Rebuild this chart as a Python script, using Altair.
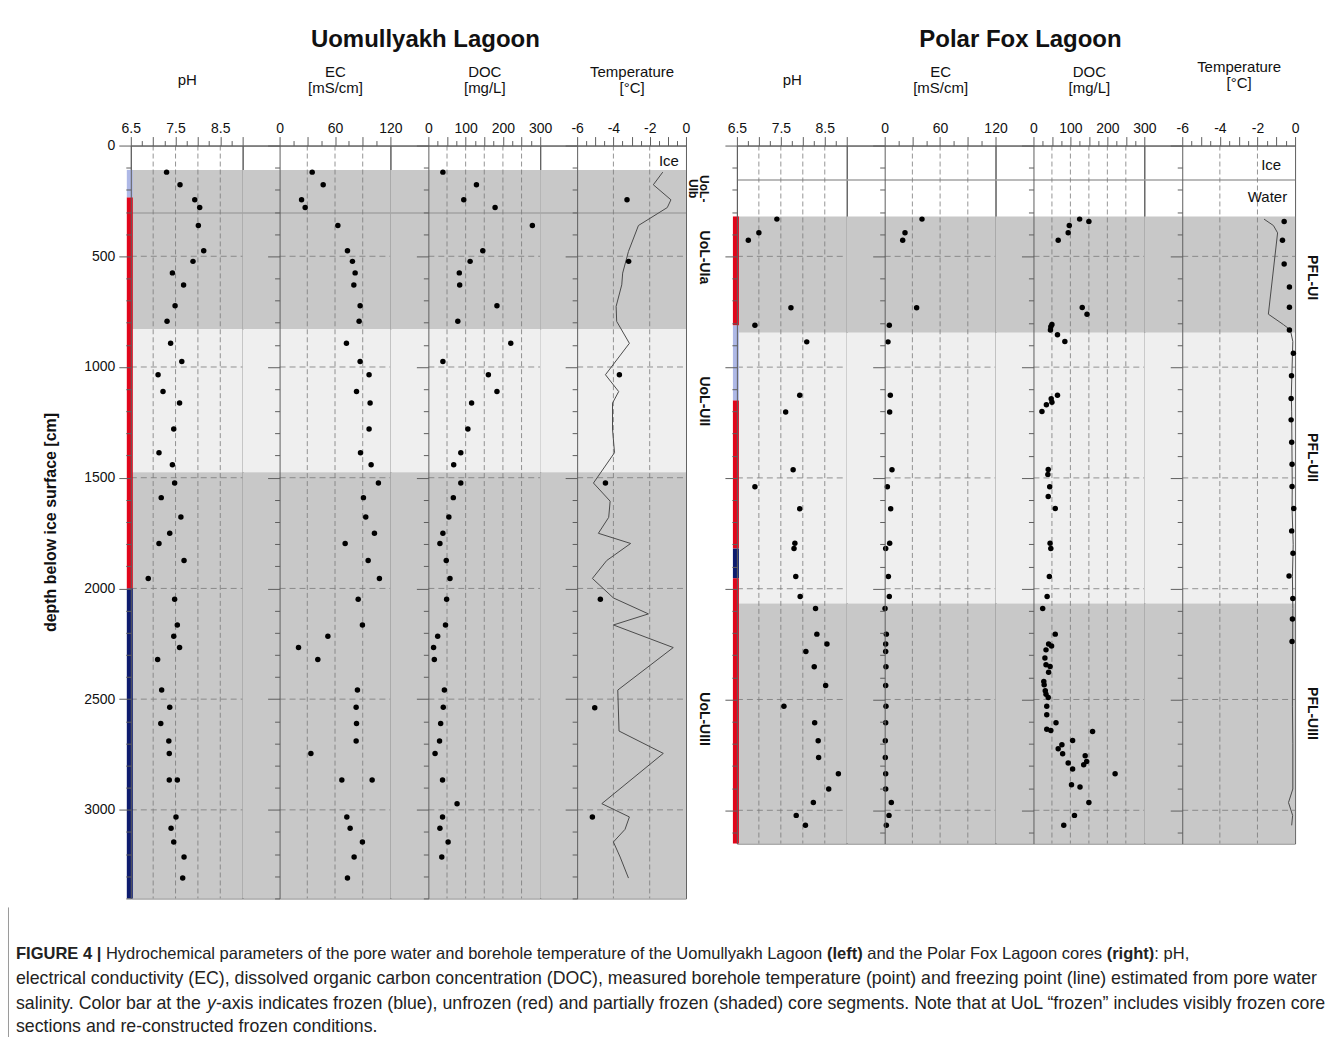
import altair as alt
import pandas as pd

FONT = "Liberation Sans"
EDGE = "#5e5e5e"
DARK = "#c8c8c8"
LIGHT = "#efefef"
INK = "#111111"

# ===================== Uomullyakh Lagoon (UoL) =====================
uol_depth = [120, 177, 245, 280, 361, 475, 523, 575, 630, 723, 793, 893, 975, 1035,
             1111, 1163, 1280, 1387, 1441, 1524, 1590, 1677, 1751, 1797, 1874, 1955,
             2049, 2165, 2216, 2267, 2321, 2459, 2537, 2610, 2689, 2745, 2865, 2865,
             3032, 3083, 3145, 3213, 3308]
uol_ph = [7.30, 7.60, 7.93, 8.04, 8.01, 8.13, 7.89, 7.43, 7.68, 7.49, 7.31, 7.39, 7.64, 7.11,
          7.22, 7.59, 7.46, 7.13, 7.43, 7.48, 7.18, 7.62, 7.37, 7.13, 7.69, 6.89,
          7.48, 7.54, 7.46, 7.59, 7.10, 7.19, 7.37, 7.17, 7.35, 7.36, 7.36, 7.54,
          7.51, 7.40, 7.46, 7.69, 7.66]
uol_ec = [35.3, 47.2, 23.8, 27.7, 63.1, 73.5, 78.9, 81.8, 80.4, 87.2, 86.1, 72.4, 87.2, 96.9,
          83.3, 98.0, 96.9, 87.6, 99.1, 107.0, 90.8, 93.3, 102.7, 71.0, 95.9, 108.1,
          85.1, 89.7, 52.3, 20.5, 41.4, 84.3, 82.9, 83.3, 82.9, 33.9, 67.4, 100.2,
          72.8, 76.4, 89.7, 80.7, 73.5]
uol_doc_depth = [120, 177, 245, 280, 361, 475, 523, 575, 630, 723, 793, 893, 975, 1035,
                 1111, 1163, 1280, 1387, 1441, 1524, 1590, 1677, 1751, 1797, 1874, 1955,
                 2049, 2165, 2216, 2267, 2321, 2459, 2537, 2610, 2689, 2745, 2865, 2972,
                 3032, 3083, 3145, 3213]
uol_doc = [39, 129, 95, 179, 279, 146, 112, 83, 84, 184, 79, 221, 39, 161,
           184, 116, 106, 87, 68, 87, 67, 55, 39, 31, 48, 58,
           49, 46, 25, 14, 16, 43, 40, 33, 30, 18, 38, 77,
           38, 31, 53, 36]
uol_temp_depth = [245, 523, 1035, 1524, 2049, 2539, 3032]
uol_temp = [-3.25, -3.16, -3.67, -4.44, -4.72, -5.03, -5.16]
uol_fp_depth = [120, 177, 245, 280, 361, 478, 576, 629, 726, 794, 893, 1035, 1111, 1163,
                1280, 1387, 1524, 1606, 1679, 1751, 1797, 1874, 1955, 2043, 2115, 2165,
                2267, 2459, 2644, 2745, 2972, 3032, 3088, 3145, 3213, 3308]
uol_fp = [-1.28, -1.80, -0.83, -1.03, -2.62, -3.17, -3.49, -3.54, -3.85, -3.82, -3.12, -4.44,
          -3.71, -4.05, -4.05, -3.94, -5.10, -4.18, -4.26, -4.83, -3.05, -4.37, -5.16, -4.00,
          -2.07, -4.00, -0.70, -3.76, -3.69, -1.25, -4.64, -3.12, -3.36, -4.00, -3.63, -3.17]
uol_shade_top = [110, 830, 1475]
uol_shade_bottom = [830, 1475, 3400]
uol_shade = ["dark", "light", "dark"]
uol_ice_line = [305]
uol_bar_top = [110, 235, 2000]
uol_bar_bottom = [235, 2000, 3400]
uol_bar_state = ["partially frozen", "unfrozen", "frozen"]
uol_units = ["UoL-\nUIb", "UoL-UIa", "UoL-UII", "UoL-UIII"]
uol_unit_depth = [195, 505, 1155, 2590]
uol_zone_text = ["Ice"]
uol_zone_depth = [68]
uol_zone_t = [-0.39]

# ===================== Polar Fox Lagoon (PFL) =====================
pfl_depth = [332, 394, 427, 732, 811, 886, 1127, 1202, 1463, 1540, 1639, 1795, 1819, 1945,
             2035, 2089, 2205, 2250, 2283, 2352, 2437, 2530, 2605, 2686, 2762, 2835, 2904,
             2965, 3023, 3068]
pfl_ph = [7.41, 7.00, 6.76, 7.73, 6.91, 8.09, 7.93, 7.61, 7.78, 6.91, 7.93, 7.82, 7.80, 7.84,
          7.94, 8.29, 8.32, 8.55, 8.07, 8.26, 8.52, 7.57, 8.27, 8.35, 8.36, 8.81, 8.59,
          8.24, 7.85, 8.06]
pfl_ec = [40.4, 22.0, 19.5, 34.6, 5.0, 3.6, 6.1, 5.4, 7.9, 2.9, 6.5, 5.4, 1.1, 4.0,
          5.0, 0.4, 1.8, 1.1, 1.1, 1.4, 1.1, 1.4, 1.1, 0.7, 0.7, 1.1, 1.1,
          7.2, 4.7, 1.8]
pfl_doc_depth = [332, 343, 361, 394, 427, 731, 761, 808, 818, 832, 854, 884, 1127, 1143,
                 1158, 1170, 1200, 1462, 1484, 1540, 1584, 1638, 1795, 1819, 1945, 2035,
                 2089, 2205, 2250, 2259, 2276, 2313, 2343, 2351, 2377, 2419, 2434, 2461,
                 2476, 2491, 2530, 2569, 2605, 2634, 2640, 2644, 2685, 2704, 2722, 2745,
                 2754, 2780, 2787, 2795, 2814, 2835, 2885, 2895, 2965, 3023, 3068]
pfl_doc = [125, 150, 97, 94, 67, 132, 145, 50, 47, 46, 65, 85, 65, 48,
           50, 35, 23, 40, 39, 44, 40, 59, 45, 47, 43, 37,
           25, 59, 41, 49, 34, 31, 34, 45, 41, 28, 29, 32,
           34, 40, 36, 36, 61, 36, 47, 160, 106, 77, 67, 79,
           140, 144, 94, 136, 106, 221, 103, 126, 150, 111, 82]
pfl_temp_depth = [343, 427, 535, 638, 730, 832, 937, 1039, 1142, 1238, 1339, 1438, 1539,
                  1638, 1739, 1840, 1943, 2044, 2137, 2238]
pfl_temp = [-0.58, -0.67, -0.58, -0.30, -0.30, -0.30, -0.09, -0.19, -0.21, -0.21, -0.18,
            -0.16, -0.16, -0.07, -0.18, -0.11, -0.32, -0.12, -0.14, -0.16]
pfl_fp_depth = [332, 361, 394, 761, 808, 832, 884, 1127, 1202, 1540, 1639, 1800, 1945,
                2089, 2250, 2530, 2700, 2904, 2965, 3023, 3068]
pfl_fp = [-1.65, -1.15, -0.93, -1.42, -0.62, -0.25, -0.12, -0.20, -0.18, -0.15, -0.16,
          -0.10, -0.14, -0.12, -0.13, -0.14, -0.12, -0.12, -0.35, -0.13, -0.18]
pfl_shade_top = [320, 845, 2067]
pfl_shade_bottom = [845, 2067, 3150]
pfl_shade = ["dark", "light", "dark"]
pfl_ice_line = [155]
pfl_bar_top = [320, 812, 1151, 1819, 1953]
pfl_bar_bottom = [812, 1151, 1819, 1953, 3150]
pfl_bar_state = ["unfrozen", "partially frozen", "unfrozen", "frozen", "unfrozen"]
pfl_units = ["PFL-UI", "PFL-UII", "PFL-UIII"]
pfl_unit_depth = [596, 1408, 2563]
pfl_zone_text = ["Ice", "Water"]
pfl_zone_depth = [90, 230]
pfl_zone_t = [-0.74, -0.42]

# ===================== text =====================
title_uol = "Uomullyakh Lagoon"
title_pfl = "Polar Fox Lagoon"
y_title = "depth below ice surface [cm]"
caption_lines = [
    [("FIGURE 4 |", "bold"),
     (" Hydrochemical parameters of the pore water and borehole temperature of the Uomullyakh Lagoon ", "normal"),
     ("(left)", "bold"), (" and the Polar Fox Lagoon cores ", "normal"), ("(right)", "bold"), (": pH,", "normal")],
    [("electrical conductivity (EC), dissolved organic carbon concentration (DOC), measured borehole "
      "temperature (point) and freezing point (line) estimated from pore water", "normal")],
    [("salinity. Color bar at the ", "normal"), ("y", "italic"),
     ("-axis indicates frozen (blue), unfrozen (red) and partially frozen (shaded) core segments. "
      "Note that at UoL \u201cfrozen\u201d includes visibly frozen core", "normal")],
    [("sections and re-constructed frozen conditions.", "normal")],
]

# ===================== styling / layout =====================
STYLE = {
    "pH": dict(box=(6.5, 9.0), step=0.25, major=0.5, labels=[6.5, 7.5, 8.5], title=["pH"],
               grid=[7.0, 7.5, 8.0, 8.5]),
    "EC": dict(box=(0, 120), step=15, major=30, labels=[0, 60, 120], title=["EC", "[mS/cm]"],
               grid=[30, 60, 90]),
    "DOC": dict(box=(0, 300), step=25, major=50, labels=[0, 100, 200, 300], title=["DOC", "[mg/L]"],
                grid=[50, 100, 150, 200, 250]),
    "T": dict(box=(-6, 0), step=0.5, major=1, labels=[-6, -4, -2, 0], title=["Temperature", "[°C]"],
              grid=[-4, -2]),
}
SITES = {
    "UoL": dict(H=754, ymax=3400, box_px={"pH": 112, "EC": 111, "DOC": 112, "T": 109},
                ext={"pH": 0, "EC": 37, "DOC": 38, "T": 37}, label_w=34, label_x=18, title_dx=239,
                title_y={"pH": -66, "EC": -74, "DOC": -74, "T": -74}),
    "PFL": dict(H=699, ymax=3150, box_px={"pH": 110, "EC": 111, "DOC": 111, "T": 113},
                ext={"pH": 0, "EC": 38, "DOC": 38, "T": 38}, label_w=40, label_x=17, title_dx=229,
                title_y={"pH": -66, "EC": -74, "DOC": -74, "T": -79}),
}
BAR_STATES = ["frozen", "unfrozen", "partially frozen"]
BAR_COLORS = ["#0d1b6e", "#e1061b", "#aeb8e6"]


def ticks_between(lo, hi, step):
    n = int(round((hi - lo) / step))
    return [round(lo + i * step, 6) for i in range(n + 1)]


def major_test(step):
    return f"abs(datum.value / {step} - round(datum.value / {step})) < 0.001"


def panel(site_key, var, pts, line=None, zone=None, bars=None, shade=None, iceline=None, title=None):
    s = SITES[site_key]
    st = STYLE[var]
    lo, hi = st["box"]
    bpx = s["box_px"][var]
    ext = s["ext"][var]
    dom_lo = lo - ext * (hi - lo) / bpx
    width = ext + bpx
    H, ymax = s["H"], s["ymax"]
    first = site_key == "UoL" and var == "pH"

    xsc = alt.Scale(domain=[dom_lo, hi], nice=False, zero=False)
    ysc = alt.Scale(domain=[0, ymax], reverse=True, nice=False, zero=False)
    lab = ",".join(str(v) for v in st["labels"])
    xaxis = alt.Axis(
        orient="top", values=ticks_between(lo, hi, st["step"]),
        labelExpr=f"indexof([{lab}], datum.value) >= 0 ? toString(datum.value) : ''",
        tickSize={"condition": {"test": major_test(st["major"]), "value": 9}, "value": 5},
        labelPadding=1, labelFontSize=14, labelColor=INK, labelOverlap=False, labelFlush=False,
        labelBound=False, domainColor=EDGE, tickColor=EDGE, grid=False, zindex=2,
        title=st["title"], titleX=ext + bpx / 2, titleY=s["title_y"][var], titleBaseline="middle",
        titleAlign="center", titleAngle=0, titleFontSize=15, titleFontWeight="normal",
        titleLineHeight=16, titleColor=INK)
    yargs = dict(values=list(range(0, ymax + 1, 100)),
                 tickSize={"condition": {"test": "datum.value % 500 === 0", "value": 12}, "value": 5},
                 domainColor=EDGE, tickColor=EDGE, grid=False, offset=-ext, zindex=2)
    if first:
        yargs.update(labelExpr="datum.value % 500 === 0 ? toString(datum.value) : ''",
                     labelFontSize=14, labelPadding=4, labelColor=INK, title=y_title,
                     titleFontSize=16, titleFontWeight="bold", titleX=-80, titleY=H / 2,
                     titleAngle=270, titleBaseline="middle", titleAlign="center", titleColor=INK)
    else:
        yargs.update(labels=False, title="")
    yaxis = alt.Axis(**yargs)

    def X(f):
        return alt.X(f"{f}:Q", scale=xsc, axis=xaxis)

    def Y(f):
        return alt.Y(f"{f}:Q", scale=ysc, axis=yaxis)

    layers = [
        alt.Chart(shade).mark_rect().encode(
            y=Y("top"), y2="bottom",
            color=alt.Color("shade:N", scale=alt.Scale(domain=["dark", "light"], range=[DARK, LIGHT]),
                            legend=None)),
        alt.Chart(iceline).mark_rule(color="#a3a3a3", strokeWidth=1.5).encode(y=Y("depth")),
        alt.Chart(pd.DataFrame({"g": st["grid"]})).mark_rule(
            color="#7a7a7a", strokeWidth=0.8, strokeDash=[5, 3]).encode(x=X("g")),
        alt.Chart(pd.DataFrame({"g": list(range(500, ymax, 500)), "x0": lo, "x1": hi})).mark_rule(
            color="#7a7a7a", strokeWidth=0.8, strokeDash=[6, 4]).encode(y=Y("g"), x=X("x0"), x2="x1"),
    ]
    if bars is not None:
        layers.append(alt.Chart(bars).mark_rect().encode(
            y=Y("top"), y2="bottom", x=alt.value(-4), x2=alt.value(2),
            color=alt.Color("state:N", scale=alt.Scale(domain=BAR_STATES, range=BAR_COLORS), legend=None)))
    if line is not None:
        layers.append(alt.Chart(line).mark_line(color="#4a4a4a", strokeWidth=1).encode(
            x=X("v"), y=Y("depth"), order="depth:Q"))
    layers.append(alt.Chart(pts).mark_circle(size=30, color="black", opacity=1).encode(
        x=X("v"), y=Y("depth")))
    if zone is not None:
        layers.append(alt.Chart(zone).mark_text(align="right", baseline="middle", fontSize=15,
                                                color=INK).encode(x=X("t"), y=Y("depth"), text="label:N"))
    props = dict(width=width, height=H)
    if title is not None:
        props["title"] = alt.TitleParams(title, fontSize=24, fontWeight="bold", font=FONT,
                                         anchor="middle", frame="group", offset=21, color=INK,
                                         dx=s["title_dx"])
    return alt.layer(*layers).resolve_scale(color="independent").properties(**props)


def unit_column(site_key, names, depths):
    s = SITES[site_key]
    ysc = alt.Scale(domain=[0, s["ymax"]], reverse=True, nice=False, zero=False)
    df = pd.DataFrame({"name": names, "depth": depths})
    enc = dict(y=alt.Y("depth:Q", scale=ysc, axis=None), x=alt.value(s["label_x"]), text="name:N")
    single = alt.Chart(df).transform_filter("indexof(datum.name, '\\n') < 0").mark_text(
        angle=90, fontSize=14, fontWeight="bold", align="center", baseline="middle", color=INK
    ).encode(**enc)
    double = alt.Chart(df).transform_filter("indexof(datum.name, '\\n') >= 0").mark_text(
        angle=90, fontSize=12, fontWeight="bold", lineBreak="\n", lineHeight=11, align="center",
        baseline="middle", color=INK
    ).encode(**enc)
    return alt.layer(single, double).properties(width=s["label_w"], height=s["H"],
                                                view=alt.ViewBackground(stroke="transparent"))


def site_panels(key, depth, ph, ec, doc_depth, doc, t_depth, t, fp_depth, fp, sh_top, sh_bot, sh,
                ice, bar_top, bar_bot, bar_state, units, unit_depth, z_text, z_depth, z_t, title):
    shade = pd.DataFrame({"top": sh_top, "bottom": sh_bot, "shade": sh})
    iceline = pd.DataFrame({"depth": ice})
    bars = pd.DataFrame({"top": bar_top, "bottom": bar_bot, "state": bar_state})
    zone = pd.DataFrame({"label": z_text, "depth": z_depth, "t": z_t})
    p1 = panel(key, "pH", pd.DataFrame({"v": ph, "depth": depth}), bars=bars, shade=shade,
               iceline=iceline, title=title)
    p2 = panel(key, "EC", pd.DataFrame({"v": ec, "depth": depth}), shade=shade, iceline=iceline)
    p3 = panel(key, "DOC", pd.DataFrame({"v": doc, "depth": doc_depth}), shade=shade, iceline=iceline)
    p4 = panel(key, "T", pd.DataFrame({"v": t, "depth": t_depth}),
               line=pd.DataFrame({"v": fp, "depth": fp_depth}), zone=zone, shade=shade, iceline=iceline)
    p5 = unit_column(key, units, unit_depth)
    return [p1, p2, p3, p4, p5]


left_panels = site_panels("UoL", uol_depth, uol_ph, uol_ec, uol_doc_depth, uol_doc, uol_temp_depth,
                          uol_temp, uol_fp_depth, uol_fp, uol_shade_top, uol_shade_bottom, uol_shade,
                          uol_ice_line, uol_bar_top, uol_bar_bottom, uol_bar_state, uol_units,
                          uol_unit_depth, uol_zone_text, uol_zone_depth, uol_zone_t, title_uol)
right_panels = site_panels("PFL", pfl_depth, pfl_ph, pfl_ec, pfl_doc_depth, pfl_doc, pfl_temp_depth,
                           pfl_temp, pfl_fp_depth, pfl_fp, pfl_shade_top, pfl_shade_bottom, pfl_shade,
                           pfl_ice_line, pfl_bar_top, pfl_bar_bottom, pfl_bar_state, pfl_units,
                           pfl_unit_depth, pfl_zone_text, pfl_zone_depth, pfl_zone_t, title_pfl)

# ---------------- caption (segment placement from Arial/Liberation metrics) ----------------
REG = {" ": 278, "!": 278, "(": 333, ")": 333, ",": 278, "-": 333, ".": 278, ":": 278, "|": 260,
       "\u201c": 333, "\u201d": 333}
BOLD = {" ": 278, "(": 333, ")": 333, ",": 278, "-": 333, ".": 278, ":": 333, "|": 280}
for c, w in zip("ABCDEFGHIJKLMNOPQRSTUVWXYZ",
                [667, 667, 722, 722, 667, 611, 778, 722, 278, 500, 667, 556, 833, 722, 778, 667, 778,
                 722, 667, 611, 722, 667, 944, 667, 667, 611]):
    REG[c] = w
for c, w in zip("abcdefghijklmnopqrstuvwxyz",
                [556, 556, 500, 556, 556, 278, 556, 556, 222, 222, 500, 222, 833, 556, 556, 556, 556,
                 333, 500, 278, 556, 500, 722, 500, 500, 500]):
    REG[c] = w
for c, w in zip("ABCDEFGHIJKLMNOPQRSTUVWXYZ",
                [722, 722, 722, 722, 667, 611, 778, 722, 278, 556, 722, 611, 833, 722, 778, 667, 778,
                 722, 667, 611, 722, 667, 944, 667, 667, 611]):
    BOLD[c] = w
for c, w in zip("abcdefghijklmnopqrstuvwxyz",
                [556, 611, 556, 611, 556, 333, 611, 611, 278, 278, 556, 278, 889, 611, 611, 611, 611,
                 389, 556, 333, 611, 556, 778, 556, 556, 500]):
    BOLD[c] = w


def tw(s, style):
    tab = BOLD if style == "bold" else REG
    return sum(tab.get(c, 556) for c in s) / 1000.0


def line_units(segs):
    return sum(tw(t, st) for t, st in segs)


CAP_X0 = 8
CAP_Y = [47, 72, 97, 120]
CAP_FS = 1303.0 / line_units(caption_lines[1])
# the reference's first caption line is set tighter (ends near x=1190)
CAP_LINE_FS = [1175.0 / line_units(caption_lines[0]), CAP_FS, CAP_FS, CAP_FS]
dummy = pd.DataFrame({"k": [0]})
cap_layers = [alt.Chart(dummy).mark_rule(color="#9a9a9a", strokeWidth=1).encode(
    x=alt.value(0.5), y=alt.value(0), y2=alt.value(132))]
for li, segs in enumerate(caption_lines):
    cur = CAP_X0
    fs = CAP_LINE_FS[li]
    for text, style in segs:
        lead = len(text) - len(text.lstrip(" "))
        xs = cur + tw(text[:lead], style) * fs
        cur += tw(text, style) * fs
        cap_layers.append(alt.Chart(dummy).mark_text(
            text=text.strip(" "), align="left", baseline="middle", fontSize=fs, font=FONT,
            fontWeight="bold" if style == "bold" else "normal",
            fontStyle="italic" if style == "italic" else "normal", color="#222222").encode(
            x=alt.value(xs), y=alt.value(CAP_Y[li])))
caption = alt.layer(*cap_layers).properties(width=1329, height=130,
                                              view=alt.ViewBackground(stroke="transparent"))

# spacer column left of the plots; a white rule pins the page's top edge
spacer = alt.layer(
    alt.Chart(dummy).mark_point(opacity=0).encode(
        x=alt.X("k:Q", axis=None), y=alt.Y("k:Q", axis=None)),
    alt.Chart(dummy).mark_rule(color="white", strokeWidth=1).encode(
        x=alt.value(0.5), y=alt.value(-143.5), y2=alt.value(0)),
).properties(width=123, height=754, view=alt.ViewBackground(stroke="transparent"))
gap = alt.Chart(dummy).mark_point(opacity=0).encode(
    x=alt.X("k:Q", axis=None), y=alt.Y("k:Q", axis=None)
).properties(width=17, height=754, view=alt.ViewBackground(stroke="transparent"))

row = alt.hconcat(spacer, *left_panels, gap, *right_panels, spacing=0, bounds="flush")
chart = alt.vconcat(row, caption, spacing=7).properties(
    padding={"left": 7, "top": 0, "right": 6, "bottom": 0},
).configure_view(stroke=EDGE, strokeWidth=1).configure_axis(
    labelFont=FONT, titleFont=FONT).configure_text(font=FONT).configure_title(font=FONT)

chart.save("out.html", embed_options={"renderer": "svg", "actions": False})
